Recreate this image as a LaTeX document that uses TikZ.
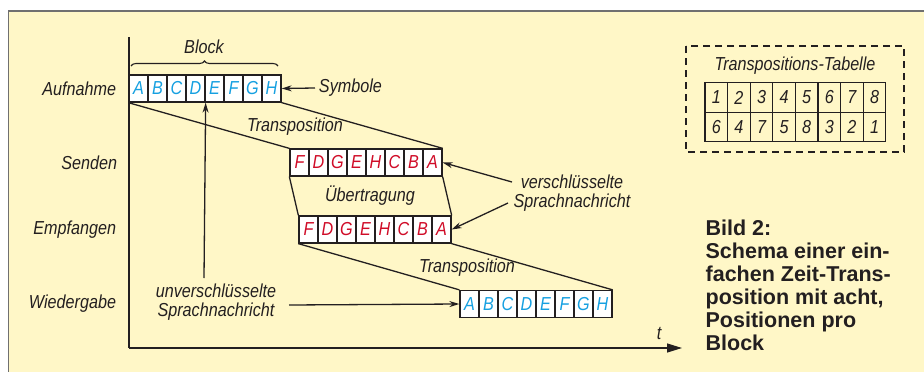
\documentclass[tikz,border=0pt]{standalone}
\usepackage{fontspec}
\setmainfont{Liberation Sans}
\newfontfamily\condfont{Liberation Sans}[FakeStretch=0.86]
\usetikzlibrary{arrows.meta}
\usetikzlibrary{decorations.pathreplacing}
\definecolor{paper}{RGB}{255,247,199}
\definecolor{frame}{RGB}{112,112,112}
\definecolor{ink}{RGB}{35,31,32}
\definecolor{plainblue}{RGB}{22,160,225}
\definecolor{cipherred}{RGB}{208,12,40}

\begin{document}
\begin{tikzpicture}[x=1pt, y=-1pt, line width=1.3pt, ink,
        every node/.style={font=\condfont\itshape\fontsize{18.8}{19}\selectfont, text=ink},
        cell/.style={draw, fill=white, minimum width=19pt, minimum height=27pt, inner sep=0pt},
        num/.style={draw, minimum width=22.6pt, minimum height=29.5pt, inner sep=0pt},
        arr/.style={-{Stealth[length=10pt,width=6pt]}}]
            \useasboundingbox (0,0) rectangle (924,372);
            \fill[white] (0,0) rectangle (924,372);
            \fill[paper] (8.5,11) rectangle (924,372);
            \draw[frame, line width=1.5pt] (8.5,372) -- (8.5,11) -- (924,11);

            % axes
            \coordinate (ytop) at (129,37);
            \coordinate (origin) at (129,348);
            \coordinate (tend) at (682,348);
            \draw (ytop) -- (origin);
            \draw[-{Triangle[length=15pt,width=9pt]}] (origin) -- (tend);
            \node (t) at (659,334) {t};

            % rows
            \node[anchor=east] (aufnahme) at (120,88.5) {Aufnahme};
            \node[anchor=east] (senden) at (121,163) {Senden};
            \node[anchor=east] (empfangen) at (120,229.5) {Empfangen};
            \node[anchor=east] (wiedergabe) at (120,304) {Wiedergabe};

            \foreach \l [count=\i] in {A,B,C,D,E,F,G,H} {
                \node[cell, text=plainblue] (a\i) at (129+19*\i-9.5, 88.5) {\l};
                \node[cell, text=plainblue] (w\i) at (460+19*\i-9.5, 304) {\l};
            }
            \foreach \l [count=\i] in {F,D,G,E,H,C,B,A} {
                \node[cell, text=cipherred] (s\i) at (290+19*\i-9.5, 162.5) {\l};
                \node[cell, text=cipherred] (e\i) at (299+19*\i-9.5, 229.5) {\l};
            }

            \draw[line width=1.1pt, decorate, decoration={brace, amplitude=5pt}] (131,66) -- (278,66);
            \node (block) at (204,47) {Block};

            \draw (a1.south west) -- (s1.north west);
            \draw (a8.south east) -- (s8.north east);
            \draw (s1.south west) -- (e1.north west);
            \draw (s8.south east) -- (e8.north east);
            \draw (e1.south west) -- (w1.north west);
            \draw (e8.south east) -- (w8.north east);

            \node (trans1) at (295,127) {Transposition};
            \node (uebertr) at (370,196) {Übertragung};
            \node (trans2) at (467,268) {Transposition};

            \node[anchor=west] (symbole) at (315,88) {Symbole};
            \draw[arr] (symbole.west) -- (a8.east);

            \node[align=center] (cipher) at (572,193) {verschlüsselte\\Sprachnachricht};
            \coordinate (v1) at (512,182);
            \coordinate (v2) at (508,203);
            \draw[arr] (v1) -- (s8.east);
            \draw[arr] (v2) -- (e8.east);

            \node[align=center] (plain) at (216,302) {unverschlüsselte\\Sprachnachricht};
            \coordinate (u1) at (204,278);
            \coordinate (u2) at (289,305);
            \draw[arr] (u1) -- (a4.south east);
            \draw[arr] (u2) -- (w1.west);

            % table
            \draw[dash pattern=on 7pt off 5pt, line width=1.5pt] (686,46) rectangle (904,152);
            \node (tabtitle) at (795,66) {Transpositions-Tabelle};
            \foreach \n [count=\i] in {1,...,8} {
                \node[num] (p\i) at (705+22.6*\i-11.3, 97.5) {\n};
            }
            \foreach \n [count=\i] in {6,4,7,5,8,3,2,1} {
                \node[num] (q\i) at (705+22.6*\i-11.3, 127) {\n};
            }

            \node[anchor=north west, align=left, inner sep=0pt,
                font=\rmfamily\bfseries\fontsize{21.5}{23}\selectfont] (caption) at (705,219)
                {Bild 2:\\Schema einer ein-\\fachen Zeit-Trans-\\position mit acht,\\Positionen pro\\Block};
        \end{tikzpicture}
\end{document}
